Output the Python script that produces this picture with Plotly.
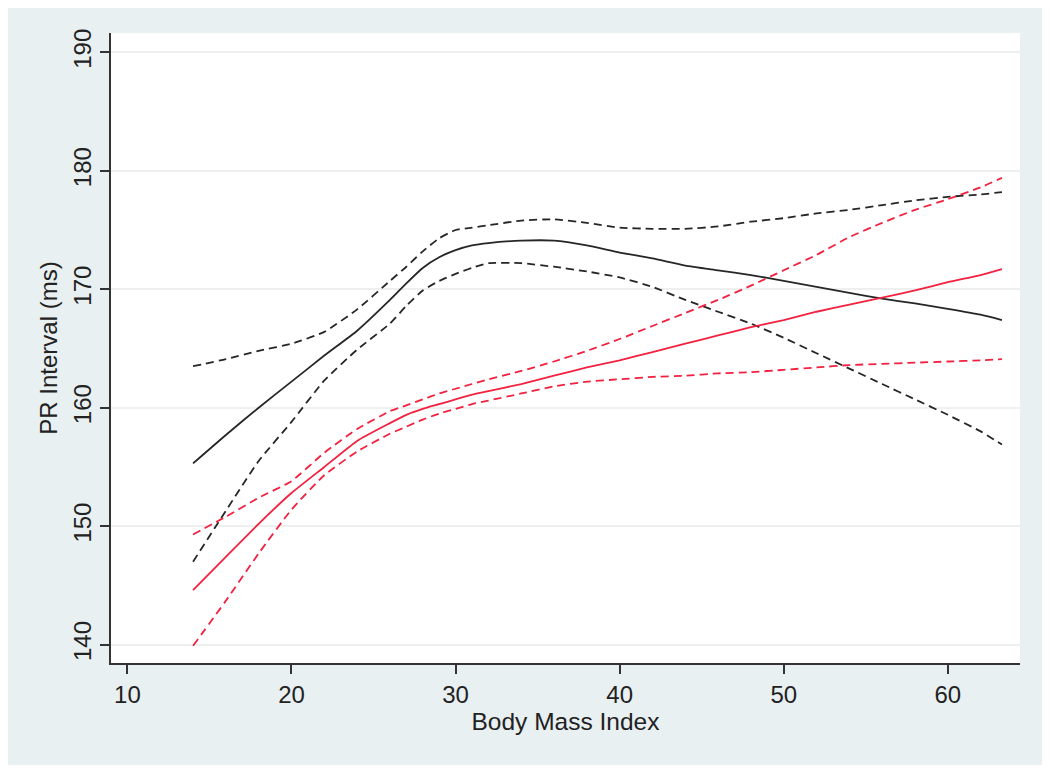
import plotly.graph_objects as go

# Body Mass Index grid
bmi = [14, 16, 18, 20, 22, 24, 26, 27, 28, 29, 30, 31, 32, 34, 36, 38, 40, 42, 44, 46, 48, 50, 52, 54, 56, 58, 60, 62, 63.3]

# Black group: estimate and confidence bounds
black_mid = [155.3, 157.7, 160.0, 162.2, 164.4, 166.5, 169.1, 170.5, 171.8, 172.7, 173.3, 173.7, 173.9, 174.1, 174.1, 173.7, 173.1, 172.6, 172.0, 171.6, 171.2, 170.7, 170.2, 169.7, 169.2, 168.8, 168.35, 167.85, 167.4]
black_upper = [163.5, 164.1, 164.8, 165.4, 166.4, 168.3, 170.7, 171.9, 173.2, 174.3, 175.0, 175.2, 175.4, 175.8, 175.9, 175.6, 175.2, 175.1, 175.1, 175.3, 175.7, 176.0, 176.4, 176.7, 177.1, 177.5, 177.8, 178.0, 178.2]
black_lower = [147.0, 151.3, 155.5, 158.8, 162.3, 164.9, 167.1, 168.6, 169.9, 170.7, 171.3, 171.8, 172.2, 172.2, 171.9, 171.5, 171.0, 170.2, 169.1, 168.1, 167.1, 165.9, 164.6, 163.3, 162.0, 160.7, 159.4, 158.0, 156.9]

# Red group: estimate and confidence bounds
red_mid = [144.6, 147.4, 150.2, 152.8, 155.0, 157.2, 158.7, 159.4, 159.9, 160.3, 160.7, 161.1, 161.4, 162.0, 162.7, 163.4, 164.0, 164.7, 165.4, 166.1, 166.8, 167.4, 168.1, 168.7, 169.3, 169.9, 170.6, 171.2, 171.7]
red_upper = [149.3, 150.8, 152.4, 153.8, 156.2, 158.2, 159.7, 160.2, 160.7, 161.2, 161.6, 162.0, 162.4, 163.1, 163.9, 164.8, 165.8, 166.9, 168.0, 169.1, 170.3, 171.6, 172.9, 174.4, 175.6, 176.7, 177.6, 178.6, 179.4]
red_lower = [139.9, 143.7, 147.7, 151.4, 154.3, 156.3, 157.8, 158.4, 159.0, 159.5, 159.9, 160.3, 160.6, 161.2, 161.8, 162.2, 162.4, 162.6, 162.7, 162.9, 163.0, 163.2, 163.4, 163.6, 163.7, 163.8, 163.9, 164.0, 164.1]

x_ticks = [10, 20, 30, 40, 50, 60]
y_ticks = [140, 150, 160, 170, 180, 190]

BLACK = "#262626"
RED = "#f2213f"
DASH = "8px,5px"

fig = go.Figure()
series = [
    (black_upper, BLACK, DASH),
    (black_lower, BLACK, DASH),
    (black_mid, BLACK, "solid"),
    (red_upper, RED, DASH),
    (red_lower, RED, DASH),
    (red_mid, RED, "solid"),
]
for ys, col, dash in series:
    fig.add_trace(go.Scatter(
        x=bmi, y=ys, mode="lines",
        line=dict(color=col, width=1.8, dash=dash, shape="spline", smoothing=0.5),
        showlegend=False, hoverinfo="skip",
    ))

# The page adds an 8px body margin, so the figure is 8px smaller than the window
W, H = 1042, 765
L, R, T, B = 103, 30, 25, 110
pw, ph = W - L - R, H - T - B

def px_x(v):
    return (v - L) / pw

def px_y(v):
    return (H - B - v) / ph

fig.add_shape(type="rect", xref="paper", yref="paper",
              x0=px_x(0), x1=px_x(1034), y0=px_y(757), y1=px_y(0),
              fillcolor="#e9f0f2", line=dict(width=0), layer="below")
fig.add_shape(type="rect", xref="paper", yref="paper",
              x0=0, x1=1, y0=0, y1=1,
              fillcolor="white", line=dict(width=0), layer="below")

FONT = "Liberation Sans, Arial, sans-serif"
fig.update_layout(
    width=W, height=H,
    margin=dict(l=L, r=R, t=T, b=B, autoexpand=False),
    paper_bgcolor="white",
    plot_bgcolor="white",
    font=dict(family=FONT, size=24, color="#222222"),
    xaxis=dict(
        range=[9.0, 64.4], tickvals=x_ticks, ticks="outside", ticklen=9, tickwidth=1.5,
        tickcolor="#333333", showline=True, linecolor="#333333", linewidth=1.5,
        showgrid=False, zeroline=False,
        title=dict(text="Body Mass Index", standoff=3, font=dict(size=24.5)),
        tickfont=dict(size=24),
    ),
    yaxis=dict(
        range=[138.45, 191.63], tickvals=y_ticks, ticks="outside", ticklen=9, tickwidth=1.5,
        tickcolor="#333333", showline=True, linecolor="#333333", linewidth=1.5,
        showgrid=True, gridcolor="#eef0f0", gridwidth=1.5, zeroline=False,
        tickangle=-90,
        title=dict(text="PR Interval (ms)", standoff=4, font=dict(size=24)),
        tickfont=dict(size=24),
    ),
)

fig.write_html("out.html")
